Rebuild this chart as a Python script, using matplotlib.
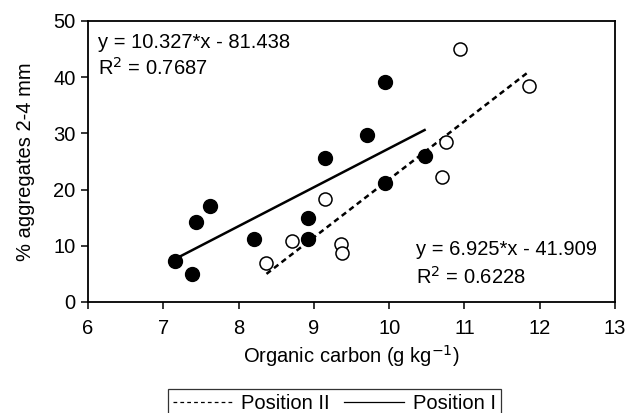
import numpy as np
import matplotlib
matplotlib.use("Agg")
import matplotlib.pyplot as plt
from matplotlib.lines import Line2D

plt.rcParams['font.family'] = ['Liberation Sans', 'DejaVu Sans']

## Position I (filled circles)
x_pos1 = [7.155, 7.38, 7.44, 7.62, 8.20, 8.92, 8.92, 9.15, 9.70, 9.95, 9.94, 10.47]
y_pos1 = [7.3, 4.9, 14.2, 17.0, 11.2, 14.9, 11.2, 25.7, 29.8, 39.2, 21.2, 26.0]

## Position II (open circles)
x_pos2 = [8.37, 8.71, 9.15, 9.36, 9.37, 10.70, 10.76, 10.94, 11.86]
y_pos2 = [7.0, 10.85, 18.3, 10.3, 8.8, 22.3, 28.4, 45.1, 38.5]

## fitted lines as printed on the chart
fit_solid = (6.925, -41.909)
fit_dash = (10.327, -81.438)
eq_top = ["y = 10.327*x - 81.438", "R$^2$ = 0.7687"]
eq_bottom = ["y = 6.925*x - 41.909", "R$^2$ = 0.6228"]

fs = 14.5

fig = plt.figure(figsize=(6.27, 4.13), dpi=100)
ax = fig.add_axes([0.1404, 0.2688, 0.8406, 0.6804])

ax.plot(x_pos1, y_pos1, 'o', color='black', markersize=10, zorder=3)
ax.plot(x_pos2, y_pos2, 'o', markerfacecolor='white', markeredgecolor='black',
        markeredgewidth=1.1, markersize=9.4, zorder=3)

xs = np.array([min(x_pos1), max(x_pos1)])
ax.plot(xs, fit_solid[0] * xs + fit_solid[1], '-', color='black', lw=1.8)
xd = np.array([min(x_pos2), max(x_pos2)])
ax.plot(xd, fit_dash[0] * xd + fit_dash[1], color='black', lw=1.8,
        linestyle=(0, (2.2, 1.6)))

## equation labels, one line each
ax.text(0.019, 0.925, eq_top[0], transform=ax.transAxes, fontsize=fs, va='center', ha='left')
ax.text(0.019, 0.833, eq_top[1], transform=ax.transAxes, fontsize=fs, va='center', ha='left')
ax.text(0.622, 0.185, eq_bottom[0], transform=ax.transAxes, fontsize=fs, va='center', ha='left')
ax.text(0.622, 0.089, eq_bottom[1], transform=ax.transAxes, fontsize=fs, va='center', ha='left')

ax.set_xlim(6, 13)
ax.set_ylim(0, 50)
ax.set_xticks(range(6, 14))
ax.set_yticks(range(0, 51, 10))
ax.tick_params(direction='out', length=5, width=1.1, labelsize=fs, color='black')
ax.tick_params(axis='x', pad=7)
ax.tick_params(axis='y', pad=4)
for s in ax.spines.values():
    s.set_linewidth(1.3)

ax.set_xlabel("Organic carbon (g kg$^{-1}$)", fontsize=fs, labelpad=4)
ax.set_ylabel("% aggregates 2-4 mm", fontsize=fs, labelpad=13)

handles = [Line2D([], [], color='black', lw=0.9, linestyle=(0, (3, 2.5))),
           Line2D([], [], color='black', lw=0.9)]
leg = fig.legend(handles, ["Position II", "Position I"], loc='upper center',
                 bbox_to_anchor=(0.533, 0.083), ncol=2, fontsize=fs,
                 frameon=True, fancybox=False, edgecolor='black',
                 handlelength=3.0, handletextpad=0.4, columnspacing=0.7,
                 borderpad=0.25)
leg.get_frame().set_linewidth(0.9)

fig.savefig("out.png", dpi=100)
